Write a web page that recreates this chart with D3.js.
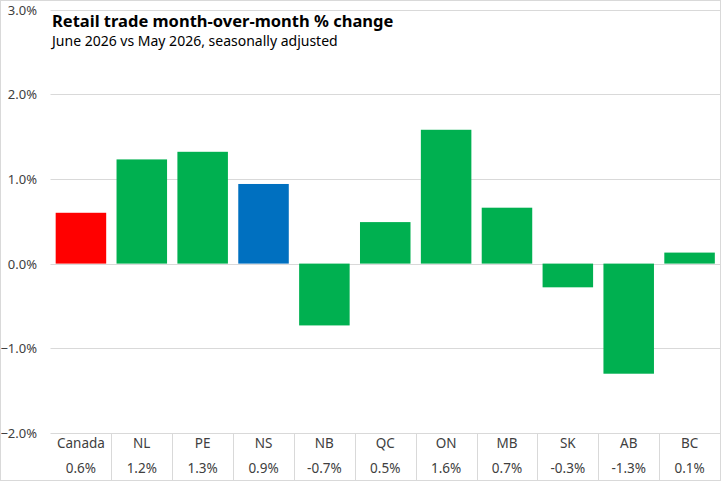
<!DOCTYPE html>
<html>
 <head>
   <meta charset="utf-8">
   <title>Retail trade month-over-month % change</title>
   <script src="https://cdn.jsdelivr.net/npm/d3@7/dist/d3.min.js"></script>
   <style>
     body { margin: 0; background: #fff; }
     text { font-family: "Noto Sans", "Open Sans", sans-serif; }
   </style>
 </head>
 <body>
  <script>
    // data
    var regions = ["Canada", "NL", "PE", "NS", "NB", "QC", "ON", "MB", "SK", "AB", "BC"];
    var changes = [0.60, 1.23, 1.32, 0.94, -0.73, 0.49, 1.58, 0.66, -0.28, -1.30, 0.13];
    var tableLabels = ["0.6%", "1.2%", "1.3%", "0.9%", "-0.7%", "0.5%", "1.6%", "0.7%", "-0.3%", "-1.3%", "0.1%"];
    var yTicks = [-2, -1, 0, 1, 2, 3];

    var width = 721, height = 481;
    var plotLeft = 50.5, plotRight = 720, plotTop = 9.5, plotBottom = 433;

    function barColor(name) {
      if (name == "Canada") return "#ff0000";
      if (name == "NS") return "#0070c0";
      return "#00b050";
    }

    var svg = d3.select("body").append("svg")
                .attr("width", width)
                .attr("height", height);

    var x = d3.scaleBand().domain(regions).range([plotLeft, plotRight]).paddingInner(0.17).paddingOuter(0.085);
    var xCell = d3.scaleBand().domain(regions).range([plotLeft, plotRight]);
    var y = d3.scaleLinear().domain([-2, 3]).range([plotBottom, plotTop]);

    // gridlines
    svg.append("g").selectAll("line")
       .data(yTicks)
       .enter().append("line")
       .attr("x1", plotLeft).attr("x2", plotRight)
       .attr("y1", function(d) { return Math.round(y(d)) + 0.5; })
       .attr("y2", function(d) { return Math.round(y(d)) + 0.5; })
       .attr("stroke", "#d9d9d9").attr("stroke-width", 1);

    // y tick labels
    svg.append("g").selectAll("text")
       .data(yTicks)
       .enter().append("text")
       .attr("x", 37)
       .attr("y", function(d) { return y(d) + 5; })
       .attr("text-anchor", "end")
       .attr("font-size", "13px")
       .attr("fill", "#404040")
       .text(function(d) { return d3.format(".1f")(d) + "%"; });

    // bars
    svg.append("g").selectAll("rect")
       .data(changes)
       .enter().append("rect")
       .attr("x", function(d, i) { return x(regions[i]); })
       .attr("width", x.bandwidth())
       .attr("y", function(d) { return Math.min(y(d), y(0)); })
       .attr("height", function(d) { return Math.abs(y(d) - y(0)); })
       .attr("fill", function(d, i) { return barColor(regions[i]); });

    // data table under the axis
    var table = svg.append("g");
    table.selectAll("line.sep")
       .data(regions.slice(1))
       .enter().append("line")
       .attr("class", "sep")
       .attr("x1", function(d) { return Math.round(xCell(d)) + 0.5; })
       .attr("x2", function(d) { return Math.round(xCell(d)) + 0.5; })
       .attr("y1", plotBottom).attr("y2", height)
       .attr("stroke", "#d9d9d9");

    table.selectAll("text.cat")
       .data(regions)
       .enter().append("text")
       .attr("class", "cat")
       .attr("x", function(d) { return xCell(d) + xCell.bandwidth() / 2; })
       .attr("y", 448)
       .attr("text-anchor", "middle")
       .attr("font-size", "13.5px")
       .attr("fill", "#404040")
       .text(function(d) { return d; });

    table.selectAll("text.val")
       .data(tableLabels)
       .enter().append("text")
       .attr("class", "val")
       .attr("x", function(d, i) { return xCell(regions[i]) + xCell.bandwidth() / 2; })
       .attr("y", 473)
       .attr("text-anchor", "middle")
       .attr("font-size", "13.5px")
       .attr("fill", "#404040")
       .text(function(d) { return d; });

    // title
    svg.append("text")
       .attr("x", 52).attr("y", 27)
       .attr("font-size", "16.5px").attr("font-weight", "bold")
       .attr("fill", "#000")
       .text("Retail trade month-over-month % change");
    svg.append("text")
       .attr("x", 52).attr("y", 46)
       .attr("font-size", "14px")
       .attr("fill", "#000")
       .text("June 2026 vs May 2026, seasonally adjusted");

    // chart border
    svg.append("rect")
       .attr("x", 0.5).attr("y", 0.5)
       .attr("width", width - 1).attr("height", height - 1)
       .attr("fill", "none").attr("stroke", "#d9d9d9");
  </script>
 </body>
</html>
